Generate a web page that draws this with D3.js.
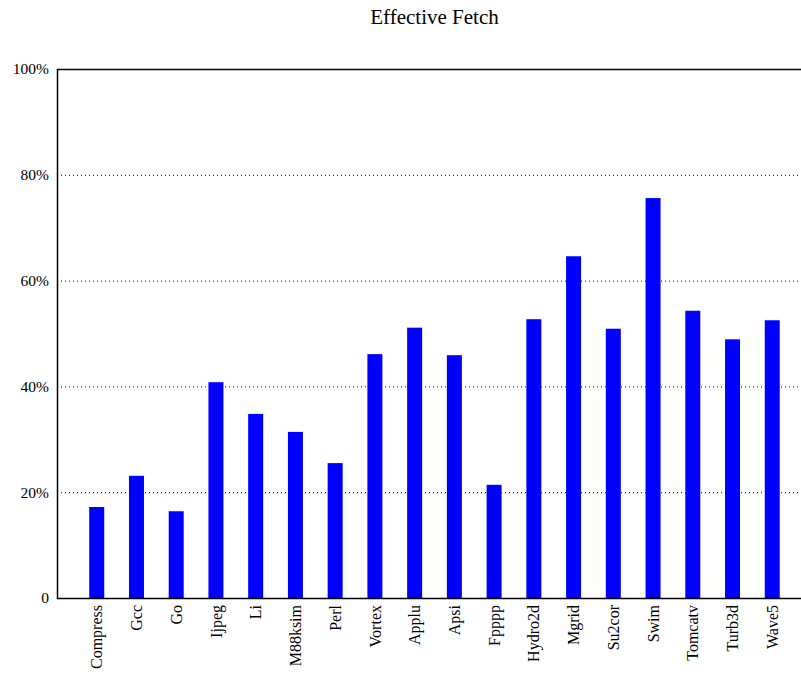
<!DOCTYPE html>
<html>
<head>
<meta charset="utf-8">
<script src="https://cdn.jsdelivr.net/npm/d3@7"></script>
<style>
  html, body { margin: 0; padding: 0; background: #fff; }
  svg { display: block; }
  text { font-family: "Liberation Serif", "DejaVu Serif", serif; fill: #000; }
</style>
</head>
<body>
<svg id="chart" width="801" height="675"></svg>
<script>
// Benchmarks and their effective fetch rate (%)
const categories = ["Compress", "Gcc", "Go", "Ijpeg", "Li", "M88ksim", "Perl", "Vortex",
  "Applu", "Apsi", "Fpppp", "Hydro2d", "Mgrid", "Su2cor", "Swim", "Tomcatv", "Turb3d", "Wave5"];
const fetchValues = [17.2, 23.1, 16.4, 40.8, 34.8, 31.4, 25.5, 46.1,
  51.1, 45.9, 21.4, 52.7, 64.6, 50.9, 75.6, 54.3, 48.9, 52.5];
const yTicks = [0, 20, 40, 60, 80, 100];
const yTickLabels = ["0", "20%", "40%", "60%", "80%", "100%"];
const chartTitle = "Effective Fetch";

const svg = d3.select("#chart");
const plotLeft = 57, plotRight = 812, plotTop = 69, plotBottom = 598;

// x: bars sit at positions 1..N on a [0, N+1] range
const x = d3.scaleLinear().domain([0, categories.length + 1]).range([plotLeft, plotRight]);
const y = d3.scaleLinear().domain([0, 100]).range([plotBottom, plotTop]);
const barW = 15;

// dotted grid lines
svg.append("g")
  .selectAll("line")
  .data(yTicks.filter(t => t > 0 && t < 100))
  .join("line")
  .attr("x1", plotLeft).attr("x2", plotRight)
  .attr("y1", d => y(d) + 0.5).attr("y2", d => y(d) + 0.5)
  .attr("stroke", "#000").attr("stroke-width", 1)
  .attr("stroke-dasharray", "1,3");

// bars
svg.append("g")
  .selectAll("rect")
  .data(fetchValues)
  .join("rect")
  .attr("x", (d, i) => x(i + 1) - barW / 2)
  .attr("width", barW)
  .attr("y", d => y(d))
  .attr("height", d => y(0) - y(d))
  .attr("fill", "#0000ff");

// frame: left, bottom and top lines
svg.append("line").attr("x1", plotLeft + 0.5).attr("x2", plotLeft + 0.5)
  .attr("y1", plotTop).attr("y2", plotBottom + 1).attr("stroke", "#000").attr("stroke-width", 1.5);
svg.append("line").attr("x1", plotLeft).attr("x2", plotRight)
  .attr("y1", plotBottom + 0.5).attr("y2", plotBottom + 0.5).attr("stroke", "#000").attr("stroke-width", 1.5);
svg.append("line").attr("x1", plotLeft).attr("x2", plotRight)
  .attr("y1", plotTop + 0.5).attr("y2", plotTop + 0.5).attr("stroke", "#000").attr("stroke-width", 1.5);

// y tick labels
svg.append("g")
  .selectAll("text")
  .data(yTicks)
  .join("text")
  .attr("x", plotLeft - 8)
  .attr("y", d => y(d))
  .attr("dy", "0.35em")
  .attr("text-anchor", "end")
  .attr("font-size", 15.5)
  .text((d, i) => yTickLabels[i]);

// x tick labels, rotated
svg.append("g")
  .selectAll("text")
  .data(categories)
  .join("text")
  .attr("transform", (d, i) => `translate(${x(i + 1)},${plotBottom + 7}) rotate(-90)`)
  .attr("text-anchor", "end")
  .attr("dy", "0.35em")
  .attr("font-size", 16)
  .text(d => d);

// title
svg.append("text")
  .attr("x", (plotLeft + plotRight) / 2)
  .attr("y", 24)
  .attr("text-anchor", "middle")
  .attr("font-size", 21)
  .text(chartTitle);
</script>
</body>
</html>
